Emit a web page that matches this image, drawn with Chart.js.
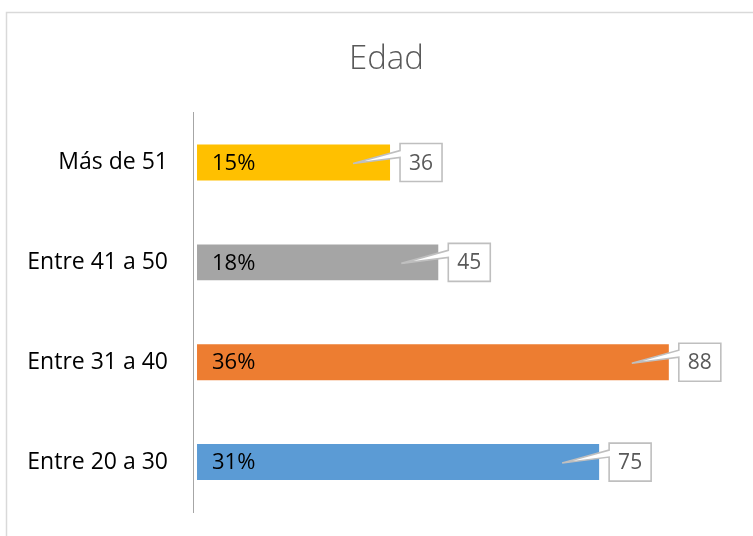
<!DOCTYPE html>
<html>
<head>
<meta charset="utf-8">
<script src="https://cdn.jsdelivr.net/npm/chart.js@4"></script>
<style>
  html, body { margin: 0; padding: 0; background: #fff; }
  #wrap { width: 753px; height: 536px; position: relative; }
</style>
</head>
<body>
<div id="wrap"><canvas id="c" width="753" height="536"></canvas></div>
<script>
// datos
const categorias = ['Más de 51', 'Entre 41 a 50', 'Entre 31 a 40', 'Entre 20 a 30'];
const cantidades = [36, 45, 88, 75];
const porcentajes = [15, 18, 36, 31];
const colores = ['#FFC000', '#A5A5A5', '#ED7D31', '#5B9BD5'];

const FONT = '"Open Sans", "DejaVu Sans", sans-serif';

// marco exterior, % dentro de la barra y etiquetas tipo "callout"
const extras = {
  id: 'extras',
  beforeDraw(chart) {
    const ctx = chart.ctx;
    ctx.save();
    ctx.strokeStyle = '#d9d9d9';
    ctx.lineWidth = 1.5;
    ctx.beginPath();
    ctx.moveTo(6.5, chart.height);
    ctx.lineTo(6.5, 12.5);
    ctx.lineTo(chart.width, 12.5);
    ctx.stroke();
    ctx.restore();
  },
  afterDatasetsDraw(chart) {
    const ctx = chart.ctx;
    const meta = chart.getDatasetMeta(0);
    const x0 = chart.scales.x.getPixelForValue(0);
    ctx.save();
    meta.data.forEach((bar, i) => {
      // porcentaje
      ctx.fillStyle = '#000';
      ctx.font = '22px ' + FONT;
      ctx.textAlign = 'left';
      ctx.textBaseline = 'middle';
      ctx.fillText(porcentajes[i] + '%', x0 + 15, bar.y + 1);

      // callout
      const bx = bar.x + 10, w = 42, h = 38, top = bar.y - 19;
      ctx.beginPath();
      ctx.moveTo(bx, top);
      ctx.lineTo(bx + w, top);
      ctx.lineTo(bx + w, top + h);
      ctx.lineTo(bx, top + h);
      ctx.lineTo(bx, top + 14);
      ctx.lineTo(bar.x - 37, bar.y + 1);
      ctx.lineTo(bx, top + 7);
      ctx.closePath();
      ctx.fillStyle = '#fff';
      ctx.fill();
      ctx.strokeStyle = '#bfbfbf';
      ctx.lineWidth = 1.6;
      ctx.stroke();

      ctx.fillStyle = '#595959';
      ctx.font = '21px ' + FONT;
      ctx.textAlign = 'center';
      ctx.fillText(String(cantidades[i]), bx + w / 2, bar.y + 1);
    });
    ctx.restore();
  }
};

new Chart(document.getElementById('c'), {
  type: 'bar',
  data: {
    labels: categorias,
    datasets: [{
      data: cantidades,
      backgroundColor: colores,
      barPercentage: 0.36,
      categoryPercentage: 1
    }]
  },
  options: {
    indexAxis: 'y',
    responsive: false,
    animation: false,
    layout: { padding: { top: 0, right: 0, bottom: 24, left: 20 } },
    scales: {
      x: { display: false, min: -0.75, max: 103.7 },
      y: {
        grid: { display: false, drawTicks: false },
        border: { display: true, color: '#a6a6a6', width: 1 },
        ticks: { color: '#000', padding: 25, font: { family: FONT, size: 23 } },
        afterFit(scale) {
          scale.width = 173;
          scale.paddingTop = 0;
          scale.paddingBottom = 0;
        }
      }
    },
    plugins: {
      legend: { display: false },
      tooltip: { enabled: false },
      title: {
        display: true,
        text: 'Edad',
        color: '#595959',
        font: { family: FONT, size: 33, weight: '300' },
        padding: { top: 40, bottom: 33 }
      }
    }
  },
  plugins: [extras]
});
</script>
</body>
</html>
